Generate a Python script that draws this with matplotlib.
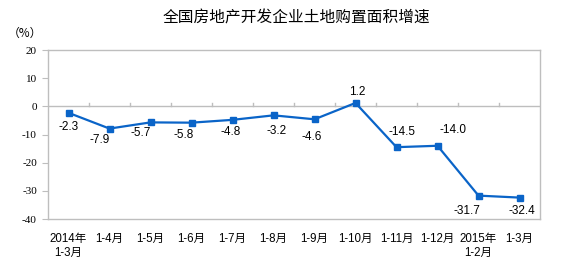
import matplotlib
matplotlib.use("Agg")
import matplotlib.pyplot as plt

plt.rcParams['font.family'] = ['Liberation Sans', 'Noto Sans CJK SC']

categories = ["2014年\n1-3月", "1-4月", "1-5月", "1-6月", "1-7月", "1-8月",
              "1-9月", "1-10月", "1-11月", "1-12月", "2015年\n1-2月", "1-3月"]
values = [-2.3, -7.9, -5.7, -5.8, -4.8, -3.2, -4.6, 1.2, -14.5, -14.0, -31.7, -32.4]
yticks = [20, 10, 0, -10, -20, -30, -40]
title = "全国房地产开发企业土地购置面积增速"
unit = "（%）"

# label offsets in points (style only)
label_offsets = [(0, -10), (-7, -8), (-7, -8), (-6, -9), (-1, -9), (2, -11),
                 (-2, -13), (1, 8), (4, 11), (11, 11), (-8, -11), (2, -10)]

W, H = 571, 271
fig = plt.figure(figsize=(W / 100, H / 100), dpi=100)
ax = fig.add_axes([48 / W, 1 - 219 / H, (540 - 48) / W, (219 - 50) / H])

x = list(range(len(values)))
line_color = '#0A64C8'
ax.plot(x, values, color=line_color, lw=1.6, marker='s', markersize=4.8,
        markeredgecolor=line_color, markerfacecolor=line_color, zorder=3)

for xi, v, (dx, dy) in zip(x, values, label_offsets):
    ax.annotate(f"{v:.1f}", (xi, v), xytext=(dx, dy), textcoords='offset points',
                ha='center', va='center', fontsize=8.5, color='black')

ax.set_xlim(-0.5, len(values) - 0.5)
ax.set_ylim(-40, 20)

grey = '#BEBEBE'
for s in ax.spines.values():
    s.set_color(grey)
    s.set_linewidth(1)

# zero line with category boundary ticks
ax.axhline(0, color=grey, lw=1, zorder=1)
for b in range(1, len(values)):
    ax.plot([b - 0.5, b - 0.5], [0, 1.1], color=grey, lw=1, zorder=1)

ax.set_yticks(yticks)
ax.set_yticklabels([str(t) for t in yticks], fontsize=8,
                   family=['Liberation Serif', 'Noto Sans CJK SC'])
ax.tick_params(axis='y', direction='out', length=4, color=grey, pad=4)

ax.set_xticks(x)
ax.set_xticklabels(categories, fontsize=8.3, linespacing=1.2)
ax.tick_params(axis='x', length=0, pad=10)

fig.text(296 / W, 1 - 18 / H, title, ha='center', va='center', fontsize=11.3,
         family=['Noto Sans CJK SC'])
fig.text(25 / W, 1 - 33 / H, unit, ha='center', va='center', fontsize=8.5,
         family=['Noto Sans CJK SC'])

fig.savefig('out.png', dpi=100)
